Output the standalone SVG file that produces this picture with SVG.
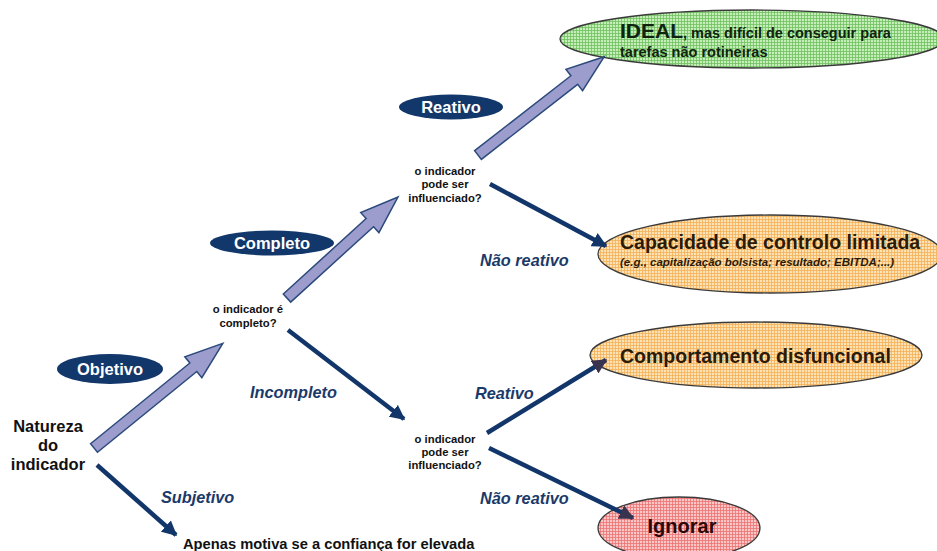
<svg xmlns="http://www.w3.org/2000/svg" width="937" height="551" viewBox="0 0 937 551">
  <style>
    text { font-family: "Liberation Sans", Arial, sans-serif; font-weight: bold; }
    .q { font-size: 11.3px; fill: #111; text-anchor: middle; }
    .branch { font-size: 16.3px; font-style: italic; fill: #1b3a6a; }
    .tag { font-size: 16.5px; fill: #ffffff; text-anchor: middle; }
    .tagbg { fill: #12376a; }
    .outcome { stroke: #3a3a3a; stroke-width: 1.3; }
    .fat { fill: #9c9ccd; stroke: #2b4a7c; stroke-width: 1.5; stroke-linejoin: miter; }
    .thin { fill: none; stroke: #12366a; stroke-width: 4.5; }
  </style>
  <defs>
    <pattern id="gridGreen" width="3" height="3" patternUnits="userSpaceOnUse">
      <rect width="3" height="3" fill="#c6eeba"/>
      <path d="M0 0.5H3M0.5 0V3" stroke="#70c060" stroke-width="0.8"/>
    </pattern>
    <pattern id="gridOrange" width="3" height="3" patternUnits="userSpaceOnUse">
      <rect width="3" height="3" fill="#fde2b6"/>
      <path d="M0 0.5H3M0.5 0V3" stroke="#f4b058" stroke-width="0.8"/>
    </pattern>
    <pattern id="gridPink" width="3" height="3" patternUnits="userSpaceOnUse">
      <rect width="3" height="3" fill="#fac6c6"/>
      <path d="M0 0.5H3M0.5 0V3" stroke="#ec7474" stroke-width="0.8"/>
    </pattern>
    <marker id="head" viewBox="0 0 10 10" refX="9" refY="5" markerWidth="15" markerHeight="15" markerUnits="userSpaceOnUse" orient="auto">
      <path d="M0 0L10 5L0 10z" fill="#12366a"/>
    </marker>
    <marker id="headDark" viewBox="0 0 10 10" refX="9" refY="5" markerWidth="15" markerHeight="15" markerUnits="userSpaceOnUse" orient="auto">
      <path d="M0 0L10 5L0 10z" fill="#3a3350"/>
    </marker>
  </defs>

  <rect width="937" height="551" fill="#ffffff"/>

  <!-- outcome ellipses -->
  <g id="ideal">
    <ellipse class="outcome" cx="752" cy="39" rx="192" ry="29" fill="url(#gridGreen)"/>
    <text x="620" y="38" fill="#0f240f"><tspan font-size="21">IDEAL</tspan><tspan font-size="14.5">, mas difícil de conseguir para</tspan></text>
    <text x="620" y="57" font-size="14.5" fill="#0f240f">tarefas não rotineiras</text>
  </g>

  <g id="controlo-limitado">
    <ellipse class="outcome" cx="770" cy="254" rx="172" ry="39" fill="url(#gridOrange)"/>
    <text x="620" y="249" font-size="19.5" fill="#2a1a08">Capacidade de controlo limitada</text>
    <text x="620" y="266" font-size="11.5" font-style="italic" fill="#2a1a08">(e.g., capitalização bolsista; resultado; EBITDA;...)</text>
  </g>

  <g id="disfuncional">
    <ellipse class="outcome" cx="756" cy="355" rx="166" ry="33" fill="url(#gridOrange)"/>
    <text x="620" y="363" font-size="19.5" fill="#2a1a08">Comportamento disfuncional</text>
  </g>

  <g id="ignorar">
    <ellipse class="outcome" cx="679" cy="528" rx="81" ry="31" fill="url(#gridPink)"/>
    <text x="682" y="533" font-size="20" fill="#2a0808" text-anchor="middle">Ignorar</text>
  </g>

  <!-- decision points -->
  <g id="natureza">
    <text x="48" y="432" font-size="16.5" fill="#111" text-anchor="middle">Natureza</text>
    <text x="48" y="451" font-size="16.5" fill="#111" text-anchor="middle">do</text>
    <text x="48" y="470" font-size="16.5" fill="#111" text-anchor="middle">indicador</text>
  </g>

  <g id="completo-q">
    <text class="q" x="248" y="313">o indicador é</text>
    <text class="q" x="248" y="327">completo?</text>
  </g>

  <g id="influencia-q1">
    <text class="q" x="445" y="175">o indicador</text>
    <text class="q" x="445" y="188">pode ser</text>
    <text class="q" x="445" y="202">influenciado?</text>
  </g>

  <g id="influencia-q2">
    <text class="q" x="445" y="443">o indicador</text>
    <text class="q" x="445" y="456">pode ser</text>
    <text class="q" x="445" y="469">influenciado?</text>
  </g>

  <g id="apenas-motiva">
    <text x="183" y="549" font-size="14.7" fill="#111">Apenas motiva se a confiança for elevada</text>
  </g>

  <!-- branch tags -->
  <g id="tag-objetivo">
    <ellipse class="tagbg" cx="110" cy="369" rx="53" ry="15"/>
    <text class="tag" x="110" y="375">Objetivo</text>
  </g>
  <g id="tag-completo">
    <ellipse class="tagbg" cx="272" cy="243" rx="62" ry="12.5"/>
    <text class="tag" x="272" y="249" font-size="17">Completo</text>
  </g>
  <g id="tag-reativo">
    <ellipse class="tagbg" cx="451" cy="107" rx="52" ry="12.5"/>
    <text class="tag" x="451" y="113">Reativo</text>
  </g>

  <!-- connectors -->
  <g id="connectors">
    <!-- wide arrows along the favourable path -->
    <polygon class="fat" transform="translate(94,448) rotate(-39.1)" points="0,-5.5 128,-5.5 128,-13.5 166,0 128,13.5 128,5.5 0,5.5"/>
    <polygon class="fat" transform="translate(287,298) rotate(-42.3)" points="0,-5.5 112,-5.5 112,-13.5 150,0 112,13.5 112,5.5 0,5.5"/>
    <polygon class="fat" transform="translate(478,155) rotate(-37.9)" points="0,-5.5 122,-5.5 122,-13.5 160,0 122,13.5 122,5.5 0,5.5"/>

    <!-- thin arrows -->
    <line class="thin" x1="490" y1="184" x2="606" y2="246" marker-end="url(#head)"/>
    <line class="thin" x1="288" y1="330" x2="404" y2="419" marker-end="url(#head)"/>
    <line class="thin" x1="487" y1="433" x2="606" y2="360" marker-end="url(#headDark)"/>
    <line class="thin" x1="489" y1="448" x2="633" y2="518" marker-end="url(#headDark)"/>
    <line class="thin" x1="97" y1="465" x2="176" y2="535" marker-end="url(#head)"/>

    <!-- branch labels -->
    <text class="branch" x="480" y="266">Não reativo</text>
    <text class="branch" x="250" y="398">Incompleto</text>
    <text class="branch" x="475" y="399">Reativo</text>
    <text class="branch" x="480" y="504">Não reativo</text>
    <text class="branch" x="161" y="503">Subjetivo</text>
  </g>
</svg>
